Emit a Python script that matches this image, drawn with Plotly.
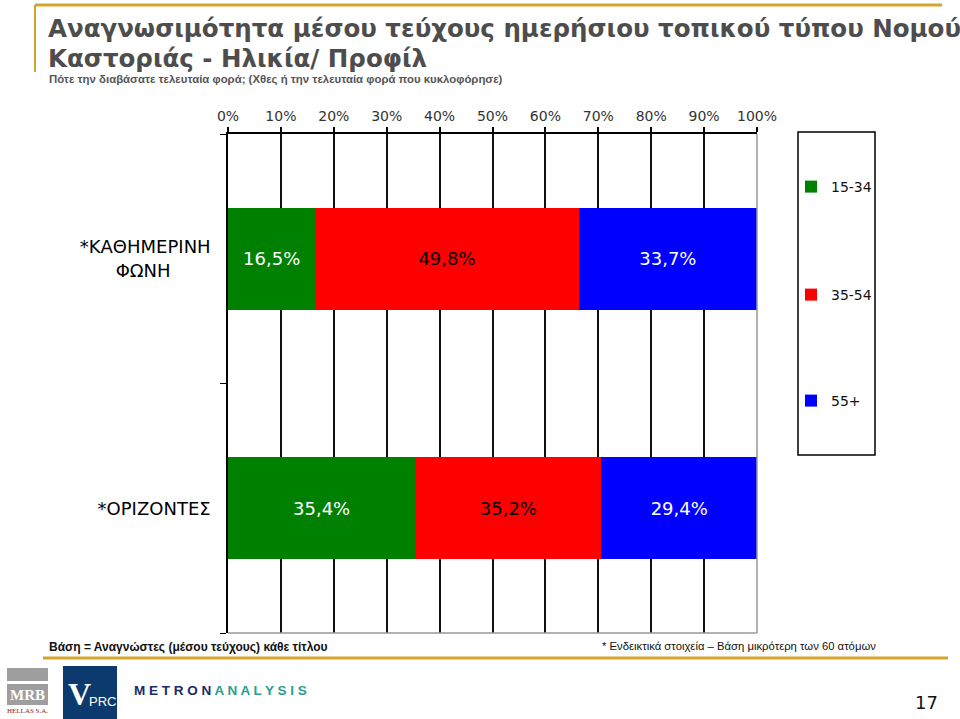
import plotly.graph_objects as go

# ---- data ----
categories = ["*ΟΡΙΖΟΝΤΕΣ", "*ΚΑΘΗΜΕΡΙΝΗ ΦΩΝΗ"]
category_labels = ["*ΟΡΙΖΟΝΤΕΣ", "*ΚΑΘΗΜΕΡΙΝΗ<br>ΦΩΝΗ" + "\u00a0" * 7]
series_names = ["15-34", "35-54", "55+"]
age_15_34 = [35.4, 16.5]
age_35_54 = [35.2, 49.8]
age_55_plus = [29.4, 33.7]
tick_vals = [0, 10, 20, 30, 40, 50, 60, 70, 80, 90, 100]
tick_text = ["0%", "10%", "20%", "30%", "40%", "50%", "60%", "70%", "80%", "90%", "100%"]

title_line1 = "Αναγνωσιμότητα μέσου τεύχους ημερήσιου τοπικού τύπου Νομού"
title_line2 = "Καστοριάς - Ηλικία/ Προφίλ"
subtitle = "Πότε την διαβάσατε τελευταία φορά; (Χθες ή την τελευταία φορά που κυκλοφόρησε)"
footer_left = "Βάση = Αναγνώστες (μέσου τεύχους) κάθε τίτλου"
footer_right = "* Ενδεικτικά στοιχεία – Βάση μικρότερη των 60 ατόμων"
page_no = "17"

colors = ["#008000", "#ff0000", "#0000ff"]
text_colors = ["white", "black", "white"]

W, H = 960, 719
L, R, T, B = 228, 757, 134, 633


def px(x):
    return (x - L) / (R - L)


def py(y):
    return (B - y) / (B - T)


def fmt(v):
    return f"{v:.1f}".replace(".", ",") + "%"


FONT = "Verdana, DejaVu Sans, sans-serif"
ARIAL = "Liberation Sans, Arial, sans-serif"

fig = go.Figure()
series = [age_15_34, age_35_54, age_55_plus]
legend_ids = ["legend", "legend2", "legend3"]
for name, vals, c, tc, lg in zip(series_names, series, colors, text_colors, legend_ids):
    fig.add_trace(go.Bar(
        y=categories, x=vals, name=name, orientation="h",
        marker=dict(color=c, line=dict(width=0)),
        width=0.41,
        text=[fmt(v) for v in vals],
        textposition="inside", insidetextanchor="middle", textangle=0,
        insidetextfont=dict(color=tc, size=18, family=FONT),
        constraintext="none",
        legend=lg,
        hoverinfo="skip",
    ))

legend_common = dict(
    xanchor="left", yanchor="middle", bgcolor="rgba(0,0,0,0)",
    font=dict(size=14, family=FONT, color="#111"), itemwidth=30,
)
leg_x = px(791)
fig.update_layout(
    legend=dict(x=leg_x, y=py(187), **legend_common),
    legend2=dict(x=leg_x, y=py(295), **legend_common),
    legend3=dict(x=leg_x, y=py(401), **legend_common),
)

fig.update_layout(
    width=W, height=H,
    margin=dict(l=L, r=W - R, t=T, b=H - B, pad=0),
    paper_bgcolor="white", plot_bgcolor="white",
    barmode="stack",
    showlegend=True,
    xaxis=dict(
        side="top", range=[0, 100], tickvals=tick_vals, ticktext=tick_text,
        showgrid=True, gridcolor="#111", gridwidth=1.5,
        showline=True, linecolor="#000", linewidth=2,
        ticks="outside", ticklen=5, tickwidth=1.5, tickcolor="#000",
        tickfont=dict(size=14, family=FONT, color="#333"),
        zeroline=False, fixedrange=True,
    ),
    yaxis=dict(
        categoryorder="array", categoryarray=categories,
        tickvals=categories, ticktext=category_labels,
        showline=True, linecolor="#000", linewidth=1.5,
        ticks="outside", tickson="boundaries", ticklen=6, tickcolor="#000",
        tickfont=dict(size=18, family=FONT, color="#000"),
        ticklabelstandoff=12,
        showgrid=False, zeroline=False, fixedrange=True,
    ),
)

shapes = []
# right and bottom grey borders of the plot area
shapes.append(dict(type="line", xref="paper", yref="paper", x0=1, x1=1, y0=0, y1=1,
                   line=dict(color="#999", width=1.5)))
shapes.append(dict(type="line", xref="paper", yref="paper", x0=0, x1=1, y0=0, y1=0,
                   line=dict(color="#999", width=1.5)))
# legend box
shapes.append(dict(type="rect", xref="paper", yref="paper", x0=px(798), x1=px(875),
                   y0=py(455), y1=py(132), line=dict(color="#000", width=1.5)))
# gold decorative lines
gold = "#d4a52c"
shapes.append(dict(type="line", xref="paper", yref="paper", x0=px(35), x1=px(942),
                   y0=py(5), y1=py(5), line=dict(color=gold, width=3)))
shapes.append(dict(type="line", xref="paper", yref="paper", x0=px(35), x1=px(35),
                   y0=py(5), y1=py(72), line=dict(color=gold, width=2)))
shapes.append(dict(type="line", xref="paper", yref="paper", x0=px(43), x1=px(948),
                   y0=py(658), y1=py(658), line=dict(color=gold, width=3)))
# logos
shapes.append(dict(type="rect", xref="paper", yref="paper", x0=px(7), x1=px(48),
                   y0=py(681), y1=py(668), line=dict(width=0), fillcolor="#9e9e9e"))
shapes.append(dict(type="rect", xref="paper", yref="paper", x0=px(7), x1=px(48),
                   y0=py(705), y1=py(684), line=dict(width=0), fillcolor="#9e9e9e"))
shapes.append(dict(type="rect", xref="paper", yref="paper", x0=px(63), x1=px(117),
                   y0=py(719), y1=py(666), line=dict(width=0), fillcolor="#0d3a6e"))
fig.update_layout(shapes=shapes)

ann = []


def text(x, y, s, size, color="#000", family=FONT, xanchor="left", yanchor="middle"):
    ann.append(dict(xref="paper", yref="paper", x=px(x), y=py(y), text=s, showarrow=False,
                    xanchor=xanchor, yanchor=yanchor,
                    font=dict(size=size, color=color, family=family)))


text(46, 29, "<b>" + title_line1 + "</b>", 24.5, "#4d4d4d")
text(46, 59, "<b>" + title_line2 + "</b>", 24.5, "#4d4d4d")
text(47, 80, "<b>" + subtitle + "</b>", 11.4, "#555", ARIAL)
text(47, 647, "<b>" + footer_left + "</b>", 12, "#111", ARIAL)
text(600, 646, footer_right, 11.3, "#111", ARIAL)
text(940, 702, page_no, 18, "#111", FONT, xanchor="right")
text(27, 695, "<b>MRB</b>", 15, "#ffffff", "Liberation Serif, serif", xanchor="center")
text(27, 711, "HELLAS S.A.", 7, "#8b1a1a", "Liberation Serif, serif", xanchor="center")
text(66, 694, "<b>V</b>", 32, "#ffffff", "Liberation Serif, serif")
text(87, 701, "PRC", 13, "#ffffff", ARIAL)
text(132, 690,
     "<b><span style='color:#1b2a6b'>M E T R O N </span>"
     "<span style='color:#2a9d8f'>A N A L Y S I S</span></b>",
     13.5, "#1b2a6b", ARIAL)
fig.update_layout(annotations=ann)

fig.write_html("out.html", config={"displayModeBar": False},
               post_script="document.body.style.margin='0';")
